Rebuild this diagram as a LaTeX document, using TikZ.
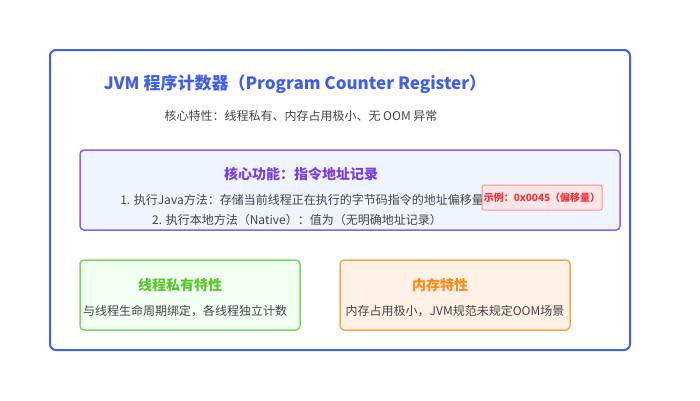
\documentclass[tikz,border=0pt]{standalone}
\usepackage{fontspec}
\setmainfont{Noto Sans CJK SC}
\usepackage{tikz}
\usetikzlibrary{positioning}

\definecolor{pcblue}{HTML}{3F5EEA}
\definecolor{pcpurple}{HTML}{8A5CF0}
\definecolor{pcpurpletxt}{HTML}{7A3FE0}
\definecolor{pcpurplefill}{HTML}{F0F4FF}
\definecolor{pcred}{HTML}{F0303A}
\definecolor{pcredline}{HTML}{FF8C8C}
\definecolor{pcredfill}{HTML}{FFE6E6}
\definecolor{pcgreen}{HTML}{5CC42C}
\definecolor{pcgreenline}{HTML}{7FD65A}
\definecolor{pcgreenfill}{HTML}{F0FFF2}
\definecolor{pcorange}{HTML}{FF8A14}
\definecolor{pcorangeline}{HTML}{FFA54A}
\definecolor{pcorangefill}{HTML}{FFF1E6}
\definecolor{pcgrey}{HTML}{444444}

\tikzset{
  panel/.style={rounded corners=4pt, line width=1.5pt},
  heading/.style={font=\bfseries\fontsize{14}{16}\selectfont, inner sep=0pt},
  body/.style={text=pcgrey, font=\fontsize{12}{14}\selectfont, inner sep=0pt},
}

\begin{document}
\begin{tikzpicture}[x=1pt,y=-1pt]
      \useasboundingbox[fill=white] (0,0) rectangle (700,400);
      % outer frame
      \draw[pcblue, line width=2pt, rounded corners=6pt, fill=white] (50,50) rectangle (630,350);
      \node (title) at (295,84) [text=pcblue, font=\bfseries\fontsize{17}{20}\selectfont, inner sep=0pt]
            {JVM 程序计数器（Program Counter Register）};
      \node[body] (sub) at (301,116) {核心特性：线程私有、内存占用极小、无 OOM 异常};

      % core function
      \draw[panel, draw=pcpurple, fill=pcpurplefill] (80,150) rectangle (620,230);
      \node[heading, text=pcpurpletxt] (core) at (301,174) {核心功能：指令地址记录};
      \node[body] (java) at (302,200) {1. 执行Java方法：存储当前线程正在执行的字节码指令的地址偏移量};
      \node[body] (native) at (297,220) {2. 执行本地方法（Native）：值为（无明确地址记录）};
      \node (demo) at (542,197.5) [draw=pcredline, fill=pcredfill, rounded corners=2pt, line width=1pt,
            minimum width=120pt, minimum height=25pt, inner sep=0pt, text=pcred,
            font=\bfseries\fontsize{10}{12}\selectfont] {示例：0x0045（偏移量）};

      % thread private
      \draw[panel, draw=pcgreenline, fill=pcgreenfill] (80,260) rectangle (300,330);
      \node[heading, text=pcgreen] (priv) at (180,285) {线程私有特性};
      \node[body] (privtxt) at (185,311) {与线程生命周期绑定，各线程独立计数};

      % memory
      \draw[panel, draw=pcorangeline, fill=pcorangefill] (340,260) rectangle (570,330);
      \node[heading, text=pcorange] (mem) at (440,285) {内存特性};
      \node[body] (memtxt) at (455,311) {内存占用极小，JVM规范未规定OOM场景};
    \end{tikzpicture}
\end{document}
